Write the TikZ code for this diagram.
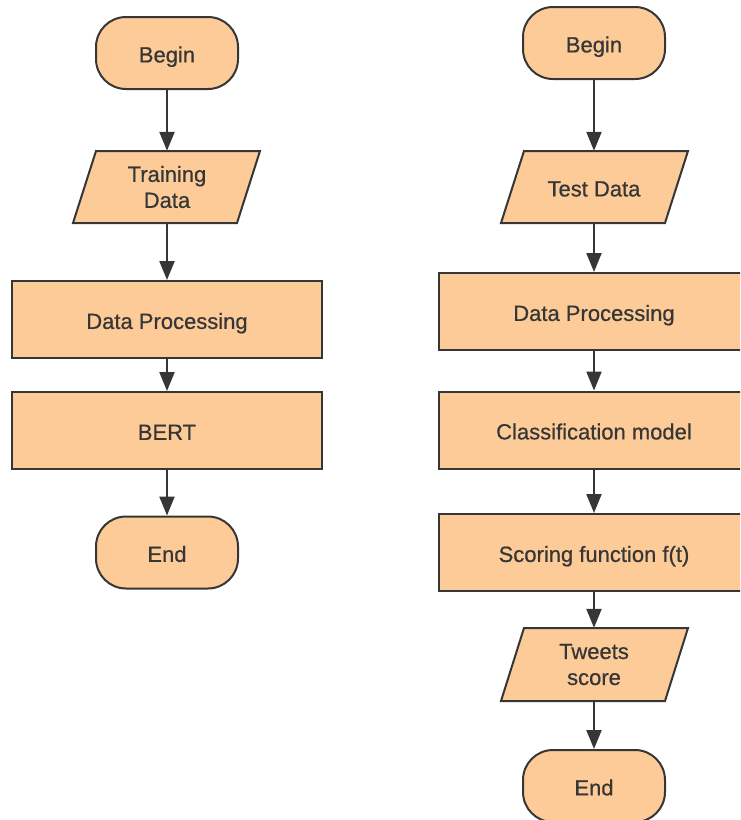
\documentclass[tikz,border=0pt]{standalone}
\usepackage{fontspec}
\setmainfont{Liberation Sans}[FakeBold=0.6]
\usetikzlibrary{arrows.meta}
\definecolor{peach}{HTML}{FDCB98}
\definecolor{ink}{HTML}{363636}
\tikzset{
  every node/.style={font=\fontsize{22}{26}\selectfont, text=ink, align=center, inner sep=0pt},
  oneline/.style={text height=18.8pt, text depth=0pt},
  box/.style={draw=ink, fill=peach, line width=2pt, minimum width=310pt, minimum height=77pt, oneline},
  term/.style={draw=ink, fill=peach, line width=2pt, minimum width=142pt, minimum height=72pt, rounded corners=30pt, oneline},
  shp/.style={draw=ink, fill=peach, line width=2pt, line join=miter},
  ioanchor/.style={minimum width=164pt, minimum height=72pt},
  arr/.style={draw=ink, line width=2.2pt, -{Triangle[length=19pt,width=15pt]}}
}
\begin{document}
\begin{tikzpicture}[x=1pt,y=-1pt]
\useasboundingbox (0,0) rectangle (740,820);
\begin{scope}
\clip (0,0) rectangle (740,820);
% left column
\node[term] (b1) at (167,53) {Begin};
\draw[shp] (96,151) -- (260,151) -- (237,223) -- (73,223) -- cycle;
\node[ioanchor] (t1) at (167,187) {Training\\Data};
\node[box] (p1) at (167,319.5) {Data Processing};
\node[box] (m1) at (167,430.5) {BERT};
\node[term] (e1) at (167,552.5) {End};
\draw[arr] (b1) -- (t1);
\draw[arr] (t1) -- (p1);
\draw[arr] (p1) -- (m1);
\draw[arr] (m1) -- (e1);
% right column
\node[term] (b2) at (594,43) {Begin};
\draw[shp] (524,151) -- (688,151) -- (665,223) -- (501,223) -- cycle;
\node[ioanchor, oneline] (t2) at (594,187) {Test Data};
\node[box] (p2) at (594,311.5) {Data Processing};
\node[box] (c2) at (594,430) {Classification model};
\node[box] (s2) at (594,552.5) {Scoring function f(t)};
\draw[shp] (524,628) -- (688,628) -- (665,701) -- (501,701) -- cycle;
\node[ioanchor, minimum height=73pt] (w2) at (594,664.5) {Tweets\\score};
\node[term] (e2) at (594,786) {End};
\draw[arr] (b2) -- (t2);
\draw[arr] (t2) -- (p2);
\draw[arr] (p2) -- (c2);
\draw[arr] (c2) -- (s2);
\draw[arr] (s2) -- (w2);
\draw[arr] (w2) -- (e2);
\end{scope}
\end{tikzpicture}
\end{document}
